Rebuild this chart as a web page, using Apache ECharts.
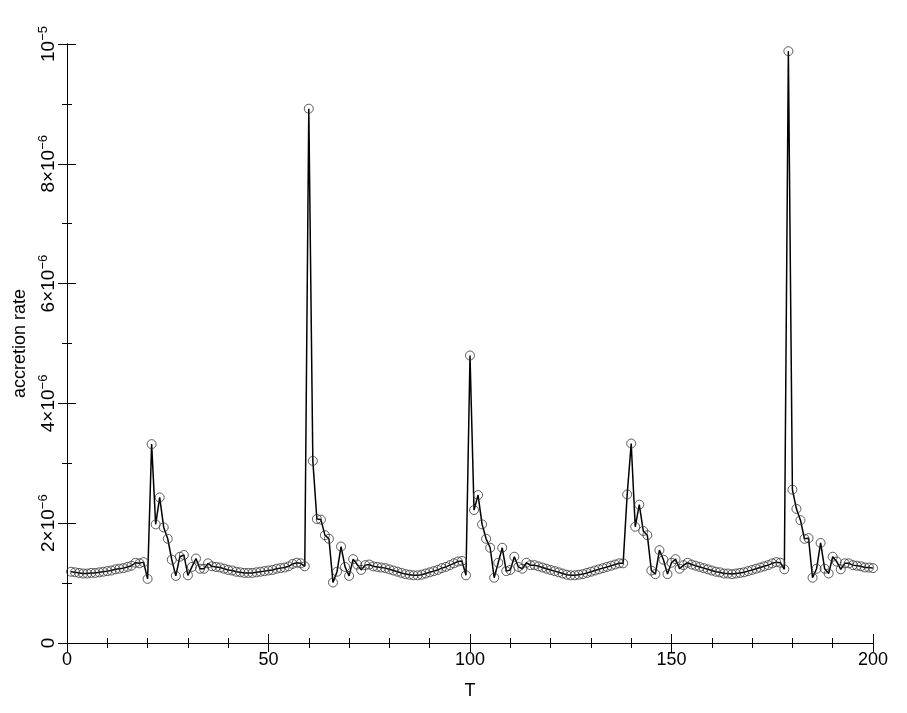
<!DOCTYPE html>
<html>
<head>
<meta charset="utf-8">
<script src="https://cdn.jsdelivr.net/npm/echarts@6/dist/echarts.min.js"></script>
<style>
html,body{margin:0;padding:0;background:#fff;}
#chart{width:907px;height:713px;}
</style>
</head>
<body>
<div id="chart"></div>
<script>
// accretion rate values in units of 1e-6, per time step T = 1..200
const seg1 = [1.19,1.18,1.17,1.16,1.16,1.17,1.17,1.18,1.19,1.20,1.21,1.23,1.24,1.25,1.27,1.29,1.34,1.33,1.35];
const seg2 = [1.07,3.32,1.98,2.43,1.93,1.74,1.39,1.12,1.44,1.47,1.13,1.27,1.41,1.24,1.24,1.33];
const seg3 = [1.28,1.27,1.26,1.24,1.22,1.21,1.19,1.18,1.17,1.17,1.17,1.18,1.19,1.20,1.21,1.22,1.24,1.25,1.26,1.28,1.32,1.34,1.33];
const seg4 = [1.28,8.92,3.04,2.07,2.06,1.80,1.74,1.01,1.19,1.61,1.27,1.12,1.40,1.31,1.22,1.30,1.31];
const seg5 = [1.28,1.27,1.26,1.25,1.23,1.21,1.19,1.17,1.15,1.14,1.13,1.13,1.14,1.16,1.18,1.20,1.22,1.25,1.27,1.30,1.33,1.36,1.37];
const seg6 = [1.13,4.80,2.22,2.47,1.98,1.74,1.59,1.09,1.34,1.59,1.20,1.22,1.44,1.27,1.24,1.34,1.30,1.30];
const seg7 = [1.28,1.26,1.24,1.22,1.20,1.18,1.16,1.14,1.13,1.13,1.14,1.15,1.17,1.19,1.21,1.23,1.25,1.27,1.29,1.31,1.33];
const seg8 = [1.33,2.48,3.33,1.94,2.31,1.87,1.80,1.21,1.15,1.55,1.39,1.15,1.34,1.40,1.24,1.30,1.34];
const seg9 = [1.31,1.29,1.27,1.25,1.23,1.21,1.19,1.18,1.16,1.16,1.15,1.16,1.17,1.18,1.20,1.22,1.24,1.26,1.28,1.30,1.33,1.35,1.34];
const seg10 = [1.23,9.88,2.56,2.24,2.05,1.74,1.75,1.09,1.24,1.67,1.24,1.16,1.44,1.36,1.23,1.33,1.33,1.30,1.29,1.28,1.26,1.26,1.25];
const UNIT = 1e-6;
const xTicks = [0, 50, 100, 150, 200];
const yTicks = [0, 2e-6, 4e-6, 6e-6, 8e-6, 1e-5];

const rates = [].concat(seg1, seg2, seg3, seg4, seg5, seg6, seg7, seg8, seg9, seg10);
const data = rates.map((v, i) => [i + 1, v * UNIT]);

const FONT = 'Liberation Sans, Arial, Helvetica, sans-serif';

function yLabel(v) {
  const n = Math.round(v / UNIT);
  if (n === 0) return '{b|0}';
  if (n === 10) return '{b|10}{s|\u22125}';
  return '{b|' + n + '\u00d710}{s|\u22126}';
}

const chart = echarts.init(document.getElementById('chart'), null, {renderer: 'canvas'});
const axisLineStyle = {color: '#000', width: 1};
chart.setOption({
  animation: false,
  backgroundColor: '#fff',
  grid: {left: 67, right: 34, top: 44, bottom: 70, containLabel: false},
  xAxis: [{
    type: 'value', min: xTicks[0], max: xTicks[xTicks.length - 1], interval: 50,
    position: 'bottom',
    name: 'T', nameLocation: 'middle', nameGap: 39,
    nameTextStyle: {fontFamily: FONT, fontSize: 18, color: '#000'},
    axisLine: {show: true, lineStyle: axisLineStyle},
    axisTick: {show: true, inside: true, length: 9, lineStyle: axisLineStyle},
    minorTick: {show: true, splitNumber: 5, length: 5, lineStyle: axisLineStyle},
    splitLine: {show: false},
    axisLabel: {fontFamily: FONT, fontSize: 18, color: '#000', margin: 8}
  }, {
    type: 'value', min: xTicks[0], max: xTicks[xTicks.length - 1], interval: 50,
    position: 'top',
    axisLine: {show: true, lineStyle: axisLineStyle},
    axisTick: {show: true, inside: true, length: 9, lineStyle: axisLineStyle},
    minorTick: {show: true, splitNumber: 5, length: 5, lineStyle: axisLineStyle},
    splitLine: {show: false},
    axisLabel: {show: false}
  }],
  yAxis: [{
    type: 'value', min: yTicks[0], max: yTicks[yTicks.length - 1], interval: 2e-6,
    position: 'left',
    name: 'accretion rate', nameLocation: 'middle', nameRotate: 90, nameGap: 30,
    nameTextStyle: {fontFamily: FONT, fontSize: 18, color: '#000'},
    axisLine: {show: true, lineStyle: axisLineStyle},
    axisTick: {show: true, inside: true, length: 9, lineStyle: axisLineStyle},
    minorTick: {show: true, splitNumber: 2, length: 5, lineStyle: axisLineStyle},
    splitLine: {show: false},
    axisLabel: {
      rotate: 90, margin: 6, formatter: yLabel,
      rich: {
        b: {fontFamily: FONT, fontSize: 19, color: '#000', lineHeight: 24},
        s: {fontFamily: FONT, fontSize: 13, color: '#000', lineHeight: 13, verticalAlign: 'top'}
      }
    }
  }, {
    type: 'value', min: yTicks[0], max: yTicks[yTicks.length - 1], interval: 2e-6,
    position: 'right',
    axisLine: {show: true, lineStyle: axisLineStyle},
    axisTick: {show: true, inside: true, length: 9, lineStyle: axisLineStyle},
    minorTick: {show: true, splitNumber: 2, length: 5, lineStyle: axisLineStyle},
    splitLine: {show: false},
    axisLabel: {show: false}
  }],
  series: [{
    type: 'line',
    xAxisIndex: 0, yAxisIndex: 0,
    data: data,
    symbol: 'circle',
    symbolSize: 9,
    showSymbol: true,
    showAllSymbol: true,
    lineStyle: {color: '#000', width: 1.5},
    itemStyle: {color: 'rgba(0,0,0,0)', borderColor: '#333', borderWidth: 0.8},
    emphasis: {disabled: true}
  }]
});
</script>
</body>
</html>
